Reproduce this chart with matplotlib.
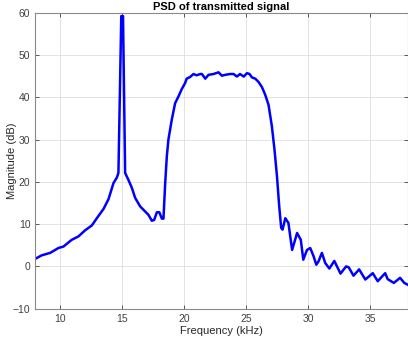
import numpy as np
import matplotlib
matplotlib.use('Agg')
import matplotlib.pyplot as plt

plt.rcParams['font.family'] = ['Liberation Sans', 'DejaVu Sans']

# frequency (kHz) and PSD magnitude (dB)
freq_khz = [8.0, 8.5, 9.2, 9.86, 10.27, 10.94, 11.48, 12.0, 12.56, 12.96,
            13.5, 13.9, 14.3, 14.57, 14.7, 14.93, 15.07, 15.24, 15.5, 15.78,
            16.05, 16.45, 16.85, 17.12, 17.39, 17.58, 17.8, 18.0, 18.2, 18.33,
            18.47, 18.6, 18.73, 19.0, 19.27, 19.54, 19.8, 20.08, 20.2, 20.48,
            20.75, 21.0, 21.3, 21.43, 21.7, 21.96, 22.36, 22.77, 23.04, 23.3,
            23.7, 23.98, 24.25, 24.5, 24.8, 25.06, 25.27, 25.46, 25.73, 26.0,
            26.27, 26.53, 26.8, 27.07, 27.28, 27.48, 27.66, 27.82, 27.93, 28.15,
            28.4, 28.7, 29.1, 29.4, 29.6, 29.9, 30.16, 30.43, 30.65, 30.83,
            31.1, 31.37, 31.7, 32.1, 32.6, 33.05, 33.26, 33.65, 34.1, 34.6,
            35.2, 35.6, 35.85, 36.2, 36.4, 36.9, 37.4, 37.74, 38.0]
mag_db = [1.8, 2.6, 3.2, 4.35, 4.7, 6.3, 7.1, 8.5, 9.7, 11.4,
          13.6, 15.9, 19.7, 21.0, 22.1, 59.2, 59.2, 22.1, 20.5, 18.6,
          16.2, 14.2, 13.0, 12.2, 10.8, 11.0, 12.8, 12.8, 11.3, 11.3,
          19.7, 26.0, 30.0, 34.7, 38.6, 40.2, 41.9, 43.4, 44.4, 44.8,
          45.5, 45.2, 45.5, 45.5, 44.4, 45.3, 45.5, 45.9, 45.1, 45.3,
          45.5, 45.5, 44.9, 45.5, 44.9, 45.7, 45.5, 44.7, 44.4, 43.6,
          42.4, 40.6, 38.2, 33.1, 27.6, 21.3, 14.2, 9.1, 8.7, 11.4,
          10.3, 3.9, 7.9, 6.3, 1.6, 3.9, 4.35, 2.4, 0.4, 1.2,
          3.2, 0.8, -0.5, 1.3, -1.7, 0.0, -0.2, -2.2, -0.7, -3.1,
          -1.6, -3.5, -2.7, -1.6, -3.0, -3.9, -2.7, -3.9, -4.3]

x_ticks = [10, 15, 20, 25, 30, 35]
y_ticks = [-10, 0, 10, 20, 30, 40, 50, 60]

fig = plt.figure(figsize=(4.08, 3.41), dpi=100)
ax = fig.add_axes([35.3 / 408, 32.3 / 341, (407.5 - 35.3) / 408, (308.7 - 12.7) / 341])

ax.plot(freq_khz, mag_db, color=(0, 0, 1), linewidth=1.8)

ax.set_xlim(8, 38)
ax.set_ylim(-10, 60)
ax.set_xticks(x_ticks)
ax.set_yticks(y_ticks)
ax.grid(True, color='#dedede', linewidth=0.6)
ax.set_axisbelow(True)
ax.tick_params(direction='in', length=3, width=0.6, colors='#404040',
               labelsize=7.5, top=True, right=True)
for s in ax.spines.values():
    s.set_color('#8a8a8a')
    s.set_linewidth(0.8)

ax.set_xlabel('Frequency (kHz)', fontsize=8, color='#262626', labelpad=2)
ax.set_ylabel('Magnitude (dB)', fontsize=8, color='#262626')
ax.yaxis.set_label_coords(-0.048, 0.5)
ax.set_title('PSD of transmitted signal', fontsize=8, fontweight='bold', pad=2)

fig.savefig('out.png', dpi=100)
